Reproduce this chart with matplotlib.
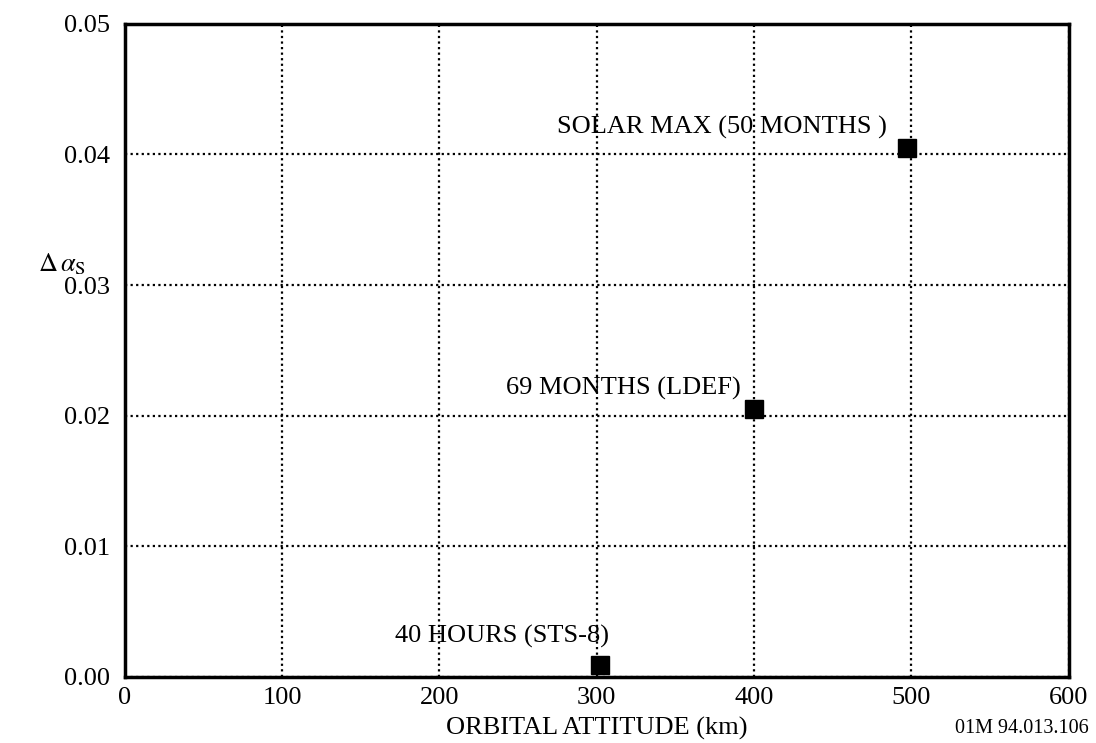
import matplotlib
matplotlib.use("Agg")
import matplotlib.pyplot as plt

plt.rcParams['font.family'] = ['Liberation Serif', 'DejaVu Serif']
plt.rcParams['mathtext.fontset'] = 'stix'

altitude = [302, 400, 497]
delta_alpha = [0.0009, 0.0205, 0.0405]
labels = ["40 HOURS (STS-8)", "69 MONTHS (LDEF)", "SOLAR MAX (50 MONTHS )"]
label_pos = [(172, 0.0026), (242, 0.0216), (275, 0.0416)]

xticks = [0, 100, 200, 300, 400, 500, 600]
yticks = [0.00, 0.01, 0.02, 0.03, 0.04, 0.05]

fig = plt.figure(figsize=(10.96, 7.43), dpi=100)
ax = fig.add_axes([0.114, 0.089, 0.861, 0.879])

ax.plot(altitude, delta_alpha, 's', color='black', markersize=13, zorder=5, clip_on=False)
for (tx, ty), t in zip(label_pos, labels):
    ax.text(tx, ty, t, fontsize=19, ha='left', va='baseline')

ax.set_xlim(0, 600)
ax.set_ylim(0, 0.05)
ax.set_xticks(xticks)
ax.set_yticks(yticks)
ax.set_xticklabels([str(v) for v in xticks], fontsize=19)
ax.set_yticklabels(["%.2f" % v for v in yticks], fontsize=19)
ax.tick_params(axis='x', length=0, pad=7)
ax.tick_params(axis='y', length=0, pad=11)
ax.grid(True, linestyle=(0, (1, 1.5)), color='black', linewidth=1.6)
for s in ax.spines.values():
    s.set_linewidth(2.5)

ax.set_xlabel("ORBITAL ATTITUDE (km)", fontsize=19, labelpad=6)
fig.text(0.035, 0.645, r"$\Delta\,\alpha_{\mathrm{S}}$", fontsize=19, ha='left', va='center')
fig.text(0.932, 0.019, "01M 94.013.106", fontsize=14.5, ha='center', va='center')

fig.savefig("out.png", dpi=100)
